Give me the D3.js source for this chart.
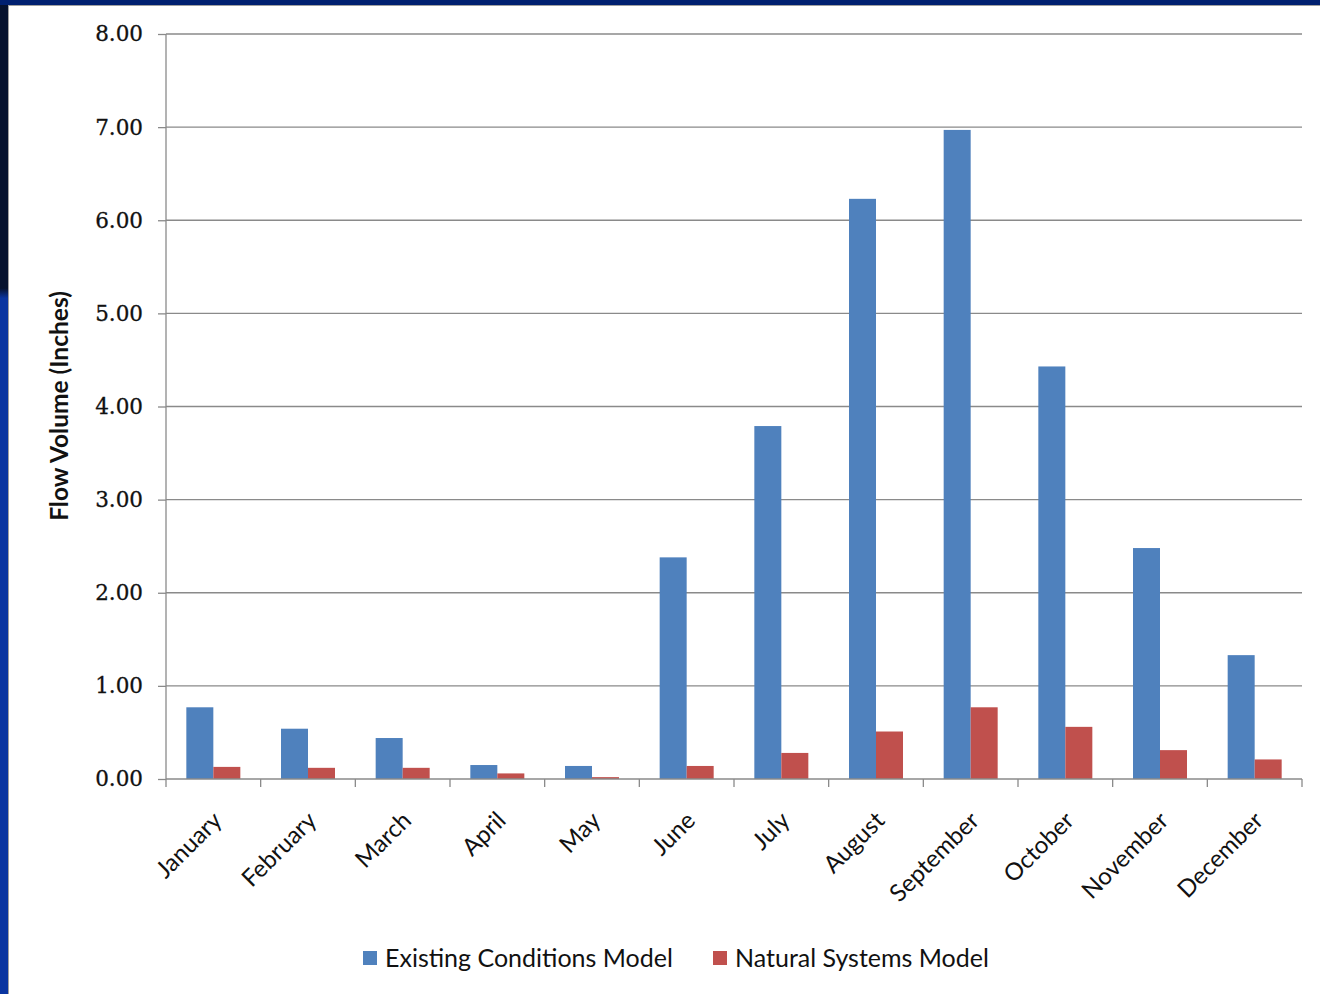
<!DOCTYPE html>
<html><head><meta charset="utf-8">
<script src="https://cdn.jsdelivr.net/npm/d3@7"></script>
<style>body{margin:0;background:#fff;}svg{display:block;}</style>
</head><body>
<svg id="c" width="1320" height="994"></svg>
<script>
const months = ["January","February","March","April","May","June","July","August","September","October","November","December"];
const existing = [0.77,0.54,0.44,0.15,0.14,2.38,3.79,6.23,6.97,4.43,2.48,1.33];
const natural  = [0.13,0.12,0.12,0.06,0.02,0.14,0.28,0.51,0.77,0.56,0.31,0.21];
const seriesNames = ["Existing Conditions Model","Natural Systems Model"];
const yTicks = [0,1,2,3,4,5,6,7,8];

(function(){
const colors = ["#4f81bd","#c0504d"];
const svg = d3.select("#c");

// slide background remnants
svg.append("rect").attr("x",0).attr("y",0).attr("width",1320).attr("height",994).attr("fill","#0a2a8a");
const g0 = svg.append("defs").append("linearGradient").attr("id","lg").attr("x1",0).attr("y1",0).attr("x2",0).attr("y2",1);
g0.append("stop").attr("offset","0").attr("stop-color","#06122e");
g0.append("stop").attr("offset","0.29").attr("stop-color","#06122e");
g0.append("stop").attr("offset","0.30").attr("stop-color","#0a35a0");
g0.append("stop").attr("offset","1").attr("stop-color","#0a35a0");
svg.append("rect").attr("x",0).attr("y",0).attr("width",9).attr("height",994).attr("fill","url(#lg)");
svg.append("rect").attr("x",0).attr("y",0).attr("width",1320).attr("height",5).attr("fill","#002070");
svg.append("rect").attr("x",8.5).attr("y",5.5).attr("width",1320).attr("height",994)
  .attr("fill","#fff").attr("stroke","#a0a0a0").attr("stroke-width",1);

const pL=166, pR=1302, pT=34, pB=779;
const x = d3.scaleBand().domain(months).range([pL,pR]).padding(0);
const y = d3.scaleLinear().domain([0,8]).range([pB,pT]);
const barW = 27;

// gridlines
svg.append("g").selectAll("line").data(yTicks.filter(d=>d>0)).join("line")
  .attr("x1",pL).attr("x2",pR).attr("y1",d=>y(d)).attr("y2",d=>y(d))
  .attr("stroke","#8a8a8a").attr("stroke-width",1.3);

// bars
const data = months.map((m,i)=>({m, v:[existing[i],natural[i]]}));
const bg = svg.append("g");
[0,1].forEach(s=>{
  bg.selectAll("rect.s"+s).data(data).join("rect").attr("class","s"+s)
    .attr("x",d=>x(d.m)+x.bandwidth()/2 - barW + s*barW)
    .attr("width",barW)
    .attr("y",d=>y(d.v[s]))
    .attr("height",d=>y(0)-y(d.v[s]))
    .attr("fill",colors[s]);
});

// y axis
const yAxis = svg.append("g").attr("transform",`translate(${pL},0)`)
  .call(d3.axisLeft(y).tickValues(yTicks).tickFormat(d3.format(".2f")).tickSize(8).tickPadding(15));
yAxis.select(".domain").attr("stroke","#8a8a8a").attr("stroke-width",1.3).attr("d",`M0,${pT}V${pB}`);
yAxis.selectAll(".tick line").attr("stroke","#8a8a8a").attr("stroke-width",1.3);
yAxis.selectAll(".tick text").attr("font-family","DejaVu Serif").attr("font-size","21.5px")
  .attr("fill","#111").attr("stroke","#111").attr("stroke-width",0.3);

// x axis
const xAxis = svg.append("g").attr("transform",`translate(0,${pB})`)
  .call(d3.axisBottom(x).tickSize(0).tickFormat(""));
xAxis.select(".domain").attr("stroke","#8a8a8a").attr("stroke-width",1.3).attr("d",`M${pL},0H${pR}`);
const bounds = months.map(m=>x(m)).concat([pR]);
svg.append("g").selectAll("line").data(bounds).join("line")
  .attr("x1",d=>d).attr("x2",d=>d).attr("y1",pB).attr("y2",pB+8)
  .attr("stroke","#8a8a8a").attr("stroke-width",1.3);
svg.append("g").selectAll("text").data(months).join("text")
  .attr("transform",d=>`translate(${x(d)+x.bandwidth()/2+10},${pB+43}) rotate(-45)`)
  .attr("text-anchor","end")
  .attr("font-family","Lato").attr("font-size","24px").attr("fill","#111")
  .text(d=>d);

// y title
svg.append("text").attr("transform",`translate(68,406) rotate(-90)`)
  .attr("text-anchor","middle").attr("font-family","Lato").attr("font-weight","bold")
  .attr("font-size","24.5px").attr("fill","#111").text("Flow Volume (Inches)");

// legend
const legX = [363,713];
const lg = svg.append("g");
seriesNames.forEach((n,i)=>{
  lg.append("rect").attr("x",legX[i]).attr("y",951).attr("width",14).attr("height",14).attr("fill",colors[i]);
  lg.append("text").attr("x",legX[i]+22).attr("y",967).attr("font-family","Lato")
    .attr("font-size","25px").attr("fill","#111").text(n);
});
})();
</script>
</body></html>
